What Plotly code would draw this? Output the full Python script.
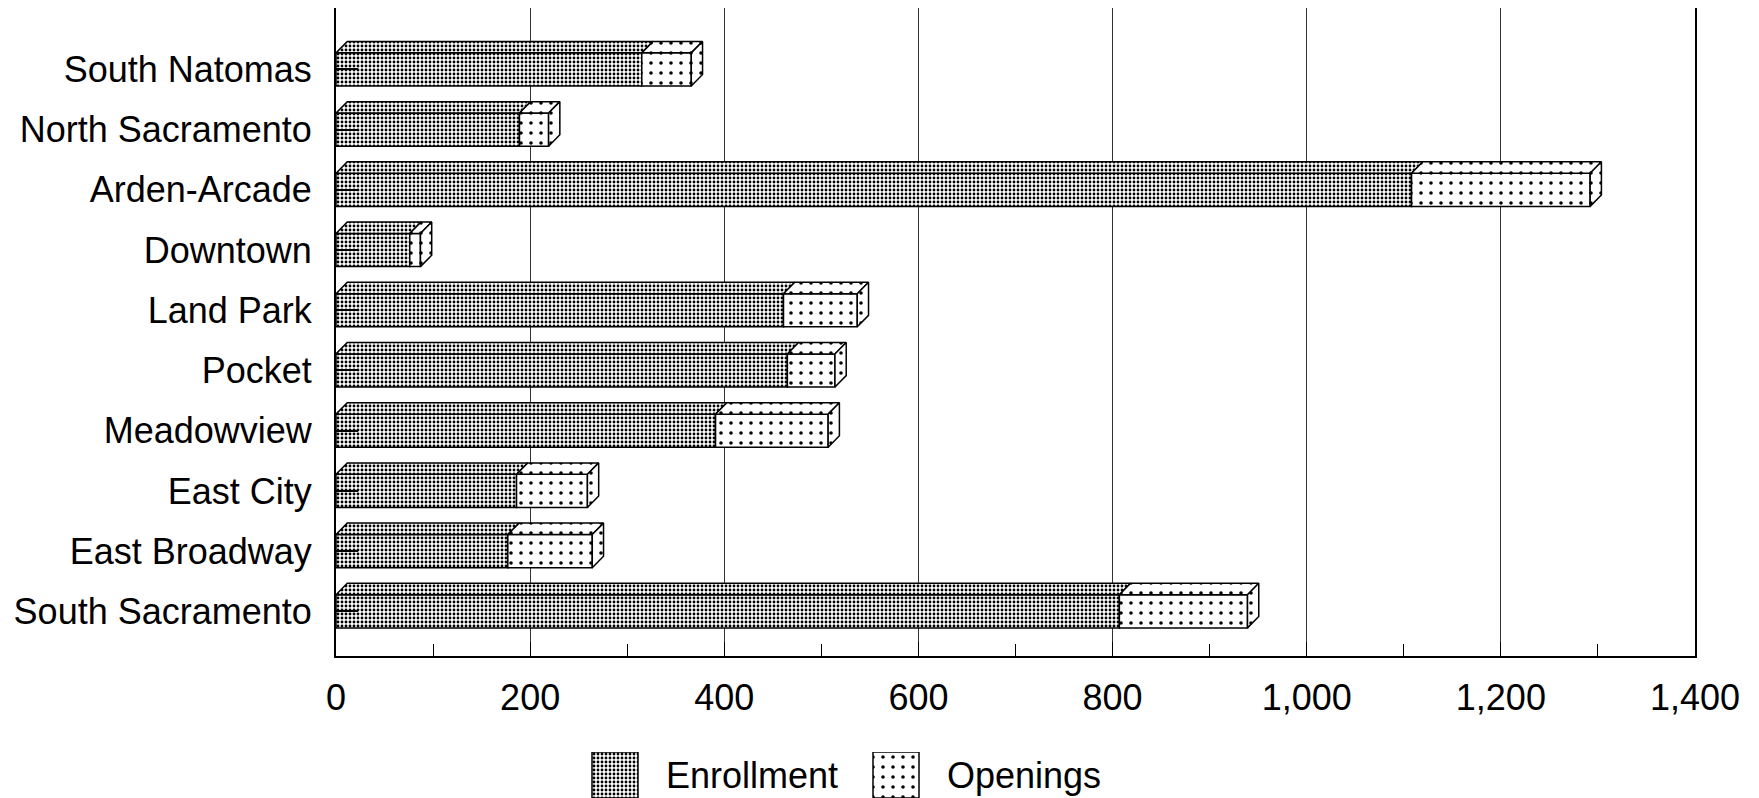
import plotly.graph_objects as go

# ---- data ----
neighborhoods = ["South Natomas", "North Sacramento", "Arden-Arcade", "Downtown",
                 "Land Park", "Pocket", "Meadowview", "East City", "East Broadway",
                 "South Sacramento"]
enrollment = [315, 189, 1108, 76, 461, 465, 391, 186, 177, 807]
openings = [51, 30, 184, 11, 76, 49, 116, 73, 87, 132]
series_names = ["Enrollment", "Openings"]
x_ticks = [0, 200, 400, 600, 800, 1000, 1200, 1400]

# ---- style / layout constants ----
FONT = "Liberation Sans, Arial, Helvetica, sans-serif"
W, H = 1751, 790          # page body has an 8px margin
PL, PR, PT, PB = 328, 64, 0, 142
BAR_W = 0.55
DX = 11.6    # 3-D depth in x units
DY = 0.19    # 3-D depth in category units
ENR_PAT = dict(shape=".", fgcolor="black", bgcolor="white", size=4, solidity=0.4)
OPN_PAT = dict(shape=".", fgcolor="black", bgcolor="white", size=10, solidity=0.1)
# legend layout (figure pixels)
LEG_SWATCH_LEFT = [584, 865]
LEG_SWATCH = 46
LEG_TEXT_GAP = 26
LEG_BOTTOM = 744

n = len(neighborhoods)
ypos = [n - 1 - i for i in range(n)]
h = BAR_W / 2

fig = go.Figure()

# front faces
fig.add_trace(go.Bar(y=ypos, x=enrollment, base=[0] * n, orientation="h", name="Enrollment",
                     width=BAR_W, showlegend=False,
                     marker=dict(color="white", pattern=ENR_PAT, line=dict(color="black", width=1.5))))
fig.add_trace(go.Bar(y=ypos, x=openings, base=enrollment, orientation="h", name="Openings",
                     width=BAR_W, showlegend=False,
                     marker=dict(color="white", pattern=OPN_PAT, line=dict(color="black", width=1.5))))

# 3-D top and side faces derived from the data
def top_faces(x0s, x1s):
    xs, ys = [], []
    for y, a, b in zip(ypos, x0s, x1s):
        xs += [a, a + DX, b + DX, b, a, None]
        ys += [y + h, y + h + DY, y + h + DY, y + h, y + h, None]
    return xs, ys

totals = [e + o for e, o in zip(enrollment, openings)]
ex, ey = top_faces([0] * n, enrollment)
ox, oy = top_faces(enrollment, totals)
sx, sy = [], []
for y, t in zip(ypos, totals):
    sx += [t, t + DX, t + DX, t, t, None]
    sy += [y + h, y + h + DY, y - h + DY, y - h, y + h, None]

for xs, ys, pat in [(ex, ey, ENR_PAT), (ox, oy, OPN_PAT), (sx, sy, OPN_PAT)]:
    fig.add_trace(go.Scatter(x=xs, y=ys, mode="lines", fill="toself", fillcolor="white",
                             fillpattern=pat, line=dict(color="black", width=1.5),
                             showlegend=False, hoverinfo="skip"))

# custom legend with large patterned swatches (auxiliary axes in figure pixels)
for name, left, pat in zip(series_names, LEG_SWATCH_LEFT, [ENR_PAT, OPN_PAT]):
    fig.add_trace(go.Bar(x=[LEG_SWATCH], base=[left], y=[0.5], width=1, orientation="h",
                         xaxis="x2", yaxis="y2", showlegend=False, hoverinfo="skip",
                         marker=dict(color="white", pattern=pat, line=dict(color="black", width=1.5))))
    fig.add_annotation(x=left + LEG_SWATCH + LEG_TEXT_GAP, y=0.5, xref="x2", yref="y2",
                       text=name, showarrow=False, xanchor="left", yanchor="middle",
                       font=dict(size=36, family=FONT, color="black"))

fig.update_layout(
    template="none",
    barmode="overlay",
    width=W, height=H,
    margin=dict(l=0, r=0, t=0, b=0, pad=0),
    paper_bgcolor="white", plot_bgcolor="white",
    font=dict(family=FONT, size=36, color="black"),
    showlegend=False,
    xaxis=dict(domain=[PL / W, (W - PR) / W], anchor="y",
               range=[0, 1400], tickvals=x_ticks, tickformat=",d",
               tickfont=dict(size=36),
               showgrid=True, gridcolor="#333", gridwidth=1,
               showline=True, linecolor="black", linewidth=2, mirror=True,
               ticks="inside", ticklen=14, tickcolor="black",
               minor=dict(dtick=100, ticks="inside", ticklen=12, tickcolor="black", showgrid=False),
               ticklabelstandoff=9, zeroline=False, layer="above traces", automargin=False),
    yaxis=dict(domain=[PB / H, 1 - PT / H], anchor="x",
               range=[-0.742, 10.02], tickvals=ypos, ticktext=neighborhoods,
               tickfont=dict(size=36),
               showgrid=False, zeroline=False,
               showline=True, linecolor="black", linewidth=2, mirror=True,
               ticks="inside", ticklen=22, tickcolor="black", tickwidth=2,
               ticklabelstandoff=15, layer="above traces", automargin=False),
    xaxis2=dict(domain=[0, 1], range=[0, W], anchor="y2", visible=False, fixedrange=True),
    yaxis2=dict(domain=[(H - LEG_BOTTOM - LEG_SWATCH) / H, (H - LEG_BOTTOM) / H],
                range=[0, 1], anchor="x2", visible=False, fixedrange=True),
)

fig.write_html("out.html")
